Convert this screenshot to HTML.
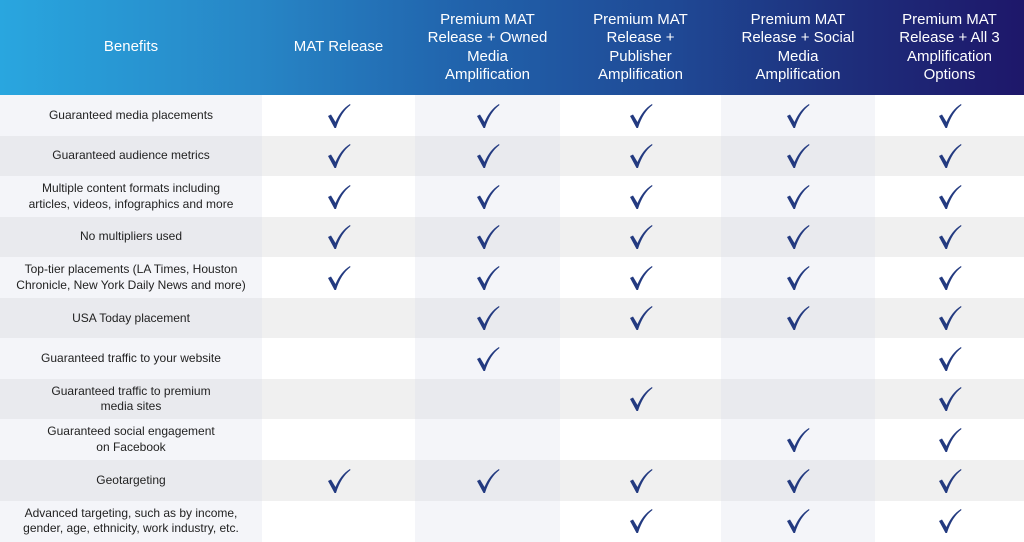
<!DOCTYPE html>
<html><head><meta charset="utf-8"><style>
body{margin:0;width:1024px;height:541px;overflow:hidden;font-family:"Liberation Sans",sans-serif;background:#fff}
#hdr{position:absolute;left:0;top:0;width:1024px;height:95px;background:linear-gradient(90deg,#29a6df 0%,#2786c6 25%,#2163ac 45%,#1f4a96 65%,#1e2f7c 82%,#1e176a 100%)}
.h{position:absolute;top:0;height:95px;display:flex;align-items:center;justify-content:center;text-align:center;color:#fff;font-size:15px;line-height:18.5px}
.cell{position:absolute;display:flex;align-items:center;justify-content:center;text-align:center;font-size:12px;line-height:15.5px;color:#222}
svg.ck{position:absolute}
</style></head><body>
<div id="hdr"></div>
<div id="tbl"></div>
<script>
const colX=[0,262,415,560,721,875,1024];
const headers=["Benefits","MAT Release","Premium MAT<br>Release + Owned<br>Media<br>Amplification","Premium MAT<br>Release +<br>Publisher<br>Amplification","Premium MAT<br>Release + Social<br>Media<br>Amplification","Premium MAT<br>Release + All 3<br>Amplification<br>Options"];
const benefits=["Guaranteed media placements","Guaranteed audience metrics","Multiple content formats including<br>articles, videos, infographics and more","No multipliers used","Top-tier placements (LA Times, Houston<br>Chronicle, New York Daily News and more)","USA Today placement","Guaranteed traffic to your website","Guaranteed traffic to premium<br>media sites","Guaranteed social engagement<br>on Facebook","Geotargeting","Advanced targeting, such as by income,<br>gender, age, ethnicity, work industry, etc."];
const checks=[[1,1,1,1,1],[1,1,1,1,1],[1,1,1,1,1],[1,1,1,1,1],[1,1,1,1,1],[0,1,1,1,1],[0,1,0,0,1],[0,0,1,0,1],[0,0,0,1,1],[1,1,1,1,1],[0,0,1,1,1]];
const top0=95,rowH=40.55;
const tbl=document.getElementById('tbl');
for(let c=0;c<6;c++){
  const d=document.createElement('div');d.className='h';
  d.style.left=colX[c]+'px';d.style.width=(colX[c+1]-colX[c])+'px';
  d.innerHTML=headers[c];
  
  
  document.body.appendChild(d);
}
const light=[true,false,true,false,true,false];
for(let r=0;r<benefits.length;r++){
  const gray=r%2===1;
  for(let c=0;c<6;c++){
    const d=document.createElement('div');d.className='cell';
    const y=top0+r*rowH;
    d.style.left=colX[c]+'px';d.style.width=(colX[c+1]-colX[c])+'px';
    d.style.top=y+'px';d.style.height=(rowH+0.6)+'px';
    d.style.background=gray?(light[c]?'#e9eaee':'#f0f0f0'):(light[c]?'#f4f5f9':'#ffffff');
    if(c===0){d.innerHTML=benefits[r];
      
      
    } else {
      
      
      if(checks[r][c-1]){
        d.innerHTML='<svg width="24" height="26" viewBox="0 0 24 26"><path d="M1 13 L4 11.5 L8.5 19 C12 11 16.5 5 23 1 L23.5 2 C17 7 12.5 14 9 25 L7.5 25 Z" fill="#233a80"/></svg>';
        
        
      }
    }
    tbl.appendChild(d);
  }
}
</script>
</body></html>
